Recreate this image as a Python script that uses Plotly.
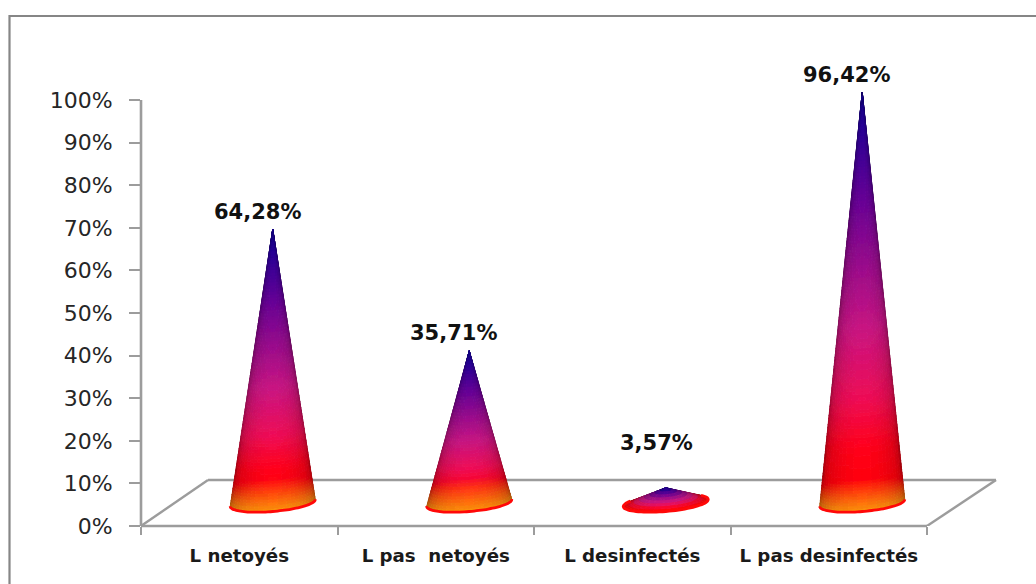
import numpy as np
import plotly.graph_objects as go

# Chart data
categories = ["L netoyés", "L pas\u00a0 netoyés", "L desinfectés", "L pas desinfectés"]
values = [64.28, 35.71, 3.57, 96.42]
y_ticks = list(range(0, 101, 10))

# Label placement relative to each cone tip, in pixels
label_dx = [18, 18, 24, 18]
label_lift = [17, 18, 45, 17]

# Frame geometry in pixels
PX_LEFT, PX_RIGHT, PX_TOP, PX_BOTTOM = 141, 1000, 60, 526
PX_PER_CAT = 196.5
PX_PER_PCT = 4.26
AXIS_GREY = "#9c9c9c"
FRAME_GREY = "#868686"

x_range = [0.5, 0.5 + (PX_RIGHT - PX_LEFT) / PX_PER_CAT]
y_range = [0, (PX_BOTTOM - PX_TOP) / PX_PER_PCT]

# Floor depth of the pseudo-3D box, in axis units
DEPTH_X = 67 / PX_PER_CAT
DEPTH_Y = 46 / PX_PER_PCT

# Cone base ellipse, in pixels
BASE_A, BASE_B, BASE_TILT = 42.5, 8.5, 3.5

COLOR_STOPS = [
    (0.00, (255, 0, 0)),
    (0.15, (255, 0, 25)),
    (0.27, (238, 12, 85)),
    (0.44, (200, 20, 130)),
    (0.60, (150, 10, 140)),
    (0.75, (100, 0, 150)),
    (0.92, (40, 0, 150)),
    (1.00, (20, 0, 130)),
]
ORANGE = np.array((252, 150, 12), float)


def base_color(t):
    ts = [s[0] for s in COLOR_STOPS]
    return np.array([np.interp(t, ts, [s[1][k] for s in COLOR_STOPS]) for k in range(3)])


def surface_color(t, u, height_px):
    """Colour of the cone at relative height t and lateral position u (0..1)."""
    col = base_color(t)
    across = np.sin(np.pi * u)
    glow = np.clip(1 - t * height_px / (20 + 12 * across), 0, 1) ** 0.9 * min(1, (height_px / 100) ** 2)
    col = col * (1 - glow) + ORANGE * glow
    shade = 0.55 + 0.45 * across ** 0.6
    return col * shade


def cone_traces(center, value):
    """Build the shaded surface of one cone as colour-grouped filled quads."""
    cx = center + DEPTH_X / 2
    y0 = DEPTH_Y / 2
    a = BASE_A / PX_PER_CAT
    height_px = value * PX_PER_PCT
    tip = (cx, y0 + value)

    phi = np.linspace(np.pi * 0.7, np.pi * 2.3, 720)
    ex = cx + a * np.cos(phi)
    ey = y0 + (BASE_TILT * np.cos(phi) + BASE_B * np.sin(phi)) / PX_PER_PCT

    # Silhouette: the two rim points seen at the widest angle from the tip
    ang = np.arctan2((ex - tip[0]) * PX_PER_CAT, (tip[1] - ey) * PX_PER_PCT)
    i0, i1 = int(np.argmin(ang)), int(np.argmax(ang))
    arc = np.linspace(phi[i0], phi[i1], 29)
    rim_x = cx + a * np.cos(arc)
    rim_y = y0 + (BASE_TILT * np.cos(arc) + BASE_B * np.sin(arc)) / PX_PER_PCT

    rows = max(8, int(height_px / 3))
    groups = {}
    for r in range(rows):
        t0, t1 = r / rows, (r + 1) / rows
        for c in range(len(arc) - 1):
            col = surface_color((t0 + t1) / 2, (c + 0.5) / (len(arc) - 1), height_px)
            key = tuple(int(round(v / 5) * 5) for v in np.clip(col, 0, 255))
            xs = [rim_x[c] + (tip[0] - rim_x[c]) * t0,
                  rim_x[c + 1] + (tip[0] - rim_x[c + 1]) * t0,
                  rim_x[c + 1] + (tip[0] - rim_x[c + 1]) * t1,
                  rim_x[c] + (tip[0] - rim_x[c]) * t1,
                  rim_x[c] + (tip[0] - rim_x[c]) * t0, None]
            ys = [rim_y[c] + (tip[1] - rim_y[c]) * t0,
                  rim_y[c + 1] + (tip[1] - rim_y[c + 1]) * t0,
                  rim_y[c + 1] + (tip[1] - rim_y[c + 1]) * t1,
                  rim_y[c] + (tip[1] - rim_y[c]) * t1,
                  rim_y[c] + (tip[1] - rim_y[c]) * t0, None]
            g = groups.setdefault(key, ([], []))
            g[0].extend(xs)
            g[1].extend(ys)

    traces = []
    for key, (xs, ys) in groups.items():
        rgb = f"rgb({key[0]},{key[1]},{key[2]})"
        traces.append(go.Scatter(x=xs, y=ys, mode="lines", fill="toself", fillcolor=rgb,
                                 line=dict(color=rgb, width=0.8), hoverinfo="skip",
                                 showlegend=False))
    # Red rim along the front of the base
    traces.append(go.Scatter(x=rim_x, y=rim_y, mode="lines",
                             line=dict(color="#ff0808", width=2.8, shape="spline"),
                             hoverinfo="skip", showlegend=False))
    return traces


fig = go.Figure()
for i, v in enumerate(values):
    for tr in cone_traces(i + 1, v):
        fig.add_trace(tr)


def paper_x(px):
    return (px - PX_LEFT) / (PX_RIGHT - PX_LEFT)


def paper_y(px):
    return (PX_BOTTOM - px) / (PX_BOTTOM - PX_TOP)


floor_line = dict(color=AXIS_GREY, width=2.4)
x_end = len(categories) + 0.5
shapes = [
    # Floor of the box
    dict(type="line", xref="x", yref="y", x0=0.5, y0=0, x1=0.5 + DEPTH_X, y1=DEPTH_Y,
         line=floor_line, layer="below"),
    dict(type="line", xref="x", yref="y", x0=0.5 + DEPTH_X, y0=DEPTH_Y,
         x1=x_end + DEPTH_X * 1.03, y1=DEPTH_Y, line=floor_line, layer="below"),
    dict(type="line", xref="x", yref="y", x0=x_end, y0=0, x1=x_end + DEPTH_X * 1.03, y1=DEPTH_Y,
         line=floor_line, layer="below"),
    # Axis lines
    dict(type="line", xref="paper", yref="y", x0=0, x1=0, y0=0, y1=100,
         line=dict(color=AXIS_GREY, width=2.6), layer="below"),
    dict(type="line", xref="x", yref="paper", x0=0.5, x1=x_end, y0=0, y1=0,
         line=dict(color=AXIS_GREY, width=2.6), layer="below"),
    # Outer chart frame: left and top edges run off the canvas
    dict(type="path", xref="paper", yref="paper", layer="below",
         path=f"M {paper_x(9.5)} {paper_y(640)} L {paper_x(9.5)} {paper_y(16)} L {paper_x(1060)} {paper_y(16)}",
         line=dict(color=FRAME_GREY, width=2.2)),
]

annotations = [
    dict(x=i + 1, y=DEPTH_Y / 2 + v, xref="x", yref="y", text=f"<b>{v:.2f}%</b>".replace(".", ","),
         showarrow=False, xanchor="center", yanchor="middle",
         xshift=label_dx[i], yshift=label_lift[i],
         font=dict(family="DejaVu Sans", size=21, color="#111111"))
    for i, v in enumerate(values)
]

fig.update_layout(
    width=1036,
    height=584,
    autosize=False,
    margin=dict(l=PX_LEFT, r=1036 - PX_RIGHT, t=PX_TOP, b=584 - PX_BOTTOM),
    paper_bgcolor="white",
    plot_bgcolor="white",
    showlegend=False,
    shapes=shapes,
    annotations=annotations,
    xaxis=dict(
        range=x_range,
        showgrid=False,
        zeroline=False,
        showline=False,
        tickmode="array",
        tickvals=[i + 1 for i in range(len(categories))],
        ticktext=[f"<b>{c}</b>" for c in categories],
        ticks="",
        ticklabelstandoff=17,
        tickfont=dict(family="DejaVu Sans", size=18.2, color="#1a1a1a"),
        minor=dict(tickmode="array", tickvals=[i + 0.5 for i in range(len(categories) + 1)],
                   ticks="outside", ticklen=8, tickwidth=2.4, tickcolor=AXIS_GREY, showgrid=False),
        automargin=False,
    ),
    yaxis=dict(
        range=y_range,
        showgrid=False,
        zeroline=False,
        showline=False,
        tickmode="array",
        tickvals=y_ticks,
        ticktext=[f"{t}%" for t in y_ticks],
        ticks="outside",
        ticklen=11,
        tickwidth=2.4,
        tickcolor=AXIS_GREY,
        ticklabelstandoff=12,
        tickfont=dict(family="DejaVu Sans", size=22, color="#262626"),
        automargin=False,
    ),
)

fig.write_html("out.html")
